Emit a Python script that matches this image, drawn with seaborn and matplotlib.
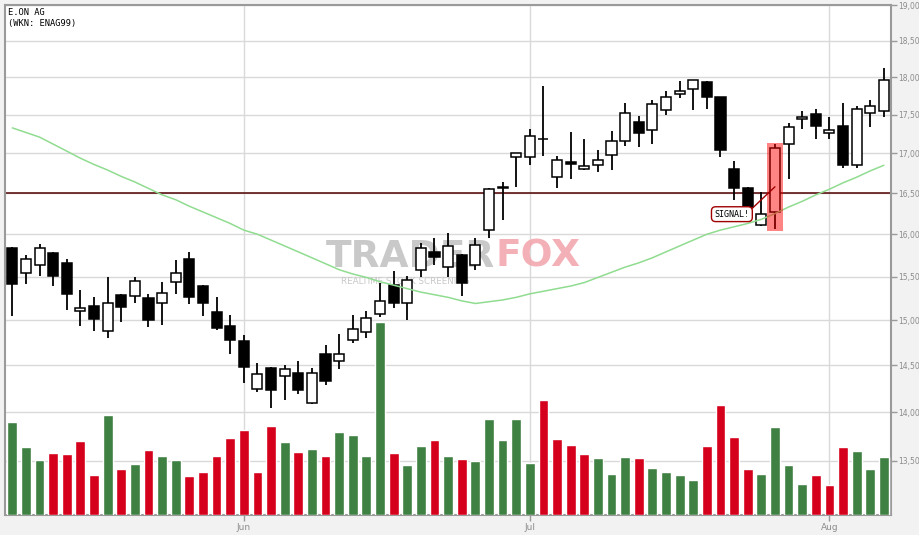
import numpy as np
import seaborn as sns
import matplotlib
matplotlib.use('Agg')
import matplotlib.pyplot as plt
from matplotlib.patches import Rectangle
from matplotlib.ticker import FixedLocator, NullLocator, FuncFormatter

# daily OHLC of E.ON AG (EUR), one entry per trading day
open_ = [15.84, 15.54, 15.64, 15.78, 15.66, 15.11, 15.16, 14.88, 15.29, 15.28,
         15.25, 15.20, 15.44, 15.70, 15.39, 15.09, 14.94, 14.77, 14.25, 14.47,
         14.39, 14.42, 14.10, 14.62, 14.55, 14.78, 14.87, 15.07, 15.40, 15.19,
         15.58, 15.79, 15.61, 15.75, 15.63, 16.05, 16.58, 16.95, 16.95, 17.19,
         16.70, 16.89, 16.80, 16.85, 16.98, 17.16, 17.41, 17.30, 17.56, 17.78,
         17.84, 17.94, 17.74, 16.80, 16.56, 16.11, 16.27, 17.12, 17.44, 17.51,
         17.26, 17.36, 16.85, 17.52, 17.55]
high = [15.85, 15.75, 15.88, 15.79, 15.71, 15.34, 15.26, 15.50, 15.30, 15.50,
        15.30, 15.44, 15.69, 15.79, 15.40, 15.26, 15.06, 14.83, 14.53, 14.48,
        14.50, 14.55, 14.47, 14.72, 14.85, 15.06, 15.10, 15.43, 15.57, 15.51,
        15.89, 15.96, 16.02, 15.76, 15.96, 16.56, 16.64, 17.00, 17.31, 17.89,
        16.97, 17.27, 17.19, 17.05, 17.29, 17.66, 17.49, 17.69, 17.81, 17.95,
        17.97, 17.95, 17.74, 16.90, 16.58, 16.51, 17.12, 17.40, 17.55, 17.58,
        17.47, 17.65, 17.62, 17.70, 18.13]
low = [15.05, 15.41, 15.51, 15.39, 15.12, 14.94, 14.88, 14.80, 14.98, 15.19,
       14.92, 14.95, 15.30, 15.18, 15.05, 14.89, 14.63, 14.31, 14.21, 14.04,
       14.13, 14.19, 14.09, 14.29, 14.46, 14.75, 14.80, 15.04, 15.14, 15.00,
       15.50, 15.63, 15.50, 15.28, 15.58, 15.95, 16.17, 16.58, 16.86, 16.97,
       16.57, 16.68, 16.79, 16.76, 16.79, 17.10, 17.08, 17.12, 17.50, 17.72,
       17.57, 17.58, 16.95, 16.42, 16.32, 16.10, 16.06, 16.68, 17.31, 17.19,
       17.19, 16.82, 16.81, 17.34, 17.47]
close = [15.41, 15.70, 15.83, 15.51, 15.30, 15.14, 15.01, 15.20, 15.15, 15.45,
         15.00, 15.31, 15.54, 15.26, 15.20, 14.91, 14.78, 14.48, 14.41, 14.23,
         14.46, 14.23, 14.42, 14.33, 14.62, 14.90, 15.02, 15.22, 15.20, 15.46,
         15.83, 15.73, 15.86, 15.42, 15.87, 16.55, 16.56, 17.00, 17.22, 17.19,
         16.92, 16.87, 16.84, 16.92, 17.16, 17.52, 17.26, 17.64, 17.74, 17.82,
         17.96, 17.74, 17.04, 16.56, 16.33, 16.25, 17.07, 17.34, 17.47, 17.35,
         17.30, 16.85, 17.58, 17.62, 17.96]
# moving average (green line)
ma = [17.33, 17.27, 17.21, 17.12, 17.03, 16.94, 16.86, 16.79, 16.71, 16.64,
      16.56, 16.48, 16.42, 16.34, 16.27, 16.20, 16.13, 16.05, 16.00, 15.93,
      15.86, 15.79, 15.72, 15.65, 15.58, 15.53, 15.49, 15.44, 15.40, 15.36,
      15.32, 15.29, 15.26, 15.22, 15.19, 15.21, 15.23, 15.26, 15.30, 15.33,
      15.36, 15.39, 15.43, 15.49, 15.55, 15.61, 15.66, 15.72, 15.79, 15.86,
      15.93, 16.00, 16.05, 16.09, 16.13, 16.18, 16.25, 16.33, 16.40, 16.48,
      16.55, 16.63, 16.70, 16.78, 16.85]
# volume in millions of shares
volume = [9.3, 6.8, 5.5, 6.2, 6.1, 7.4, 4.0, 10.0, 4.6, 5.1,
          6.5, 5.9, 5.5, 3.9, 4.3, 5.9, 7.7, 8.5, 4.3, 8.9,
          7.3, 6.3, 6.6, 5.9, 8.3, 8.0, 5.9, 19.3, 6.2, 5.0,
          6.9, 7.5, 5.9, 5.6, 5.4, 9.6, 7.5, 9.6, 5.2, 11.5,
          7.6, 7.0, 6.1, 5.7, 4.1, 5.8, 5.7, 4.7, 4.3, 4.0,
          3.5, 6.9, 11.0, 7.8, 4.6, 4.1, 8.8, 5.0, 3.1, 4.0,
          3.0, 6.8, 6.4, 4.6, 5.8]
vol_dir = ['up', 'up', 'up', 'down', 'down', 'down', 'down', 'up', 'down', 'up',
           'down', 'up', 'up', 'down', 'down', 'down', 'down', 'down', 'down', 'down',
           'up', 'down', 'up', 'down', 'up', 'up', 'up', 'up', 'down', 'up',
           'up', 'down', 'up', 'down', 'up', 'up', 'up', 'up', 'up', 'down',
           'down', 'down', 'down', 'up', 'up', 'up', 'down', 'up', 'up', 'up',
           'up', 'down', 'down', 'down', 'down', 'up', 'up', 'up', 'up', 'down',
           'down', 'down', 'up', 'up', 'up']
month_labels = ['Jun', 'Jul', 'Aug']
month_start = [17, 38, 60]     # first trading day of each month
price_ticks = [13.5, 14.0, 14.5, 15.0, 15.5, 16.0, 16.5, 17.0, 17.5, 18.0, 18.5, 19.0]
signal_day = 56
signal_level = 16.5

sns.set_theme(style='white')
plt.rcParams['font.family'] = ['DejaVu Sans']

n = len(close)
idx = np.arange(n)
o = np.array(open_); c = np.array(close)

fig = plt.figure(figsize=(9.2, 5.35), dpi=100, facecolor='#f2f2f2')
ax = fig.add_axes([5.5/920, 20/535, 885.2/920, 509.7/535])
ax.set_facecolor('white')
ax.set_yscale('log')

# watermark
ax.text(0.553, 0.487, 'TRADER', transform=ax.transAxes, ha='right', va='baseline',
        fontsize=27, fontweight='bold', color='#bcbcbc', alpha=0.8, zorder=1)
ax.text(0.553, 0.487, 'FOX', transform=ax.transAxes, ha='left', va='baseline',
        fontsize=27, fontweight='bold', color='#f2a3ab', alpha=0.85, zorder=1)
ax.text(0.452, 0.467, 'REALTIME STOCK SCREENING', transform=ax.transAxes, ha='center',
        va='top', fontsize=6.3, color='#c8c8c8', zorder=1)

ax.axhline(signal_level, color='#500000', lw=1.1, zorder=1.5)

# candles
ax.vlines(idx, low, high, color='black', lw=1.3, zorder=2)
body_col = np.where(c < o, 'black', 'white')
ax.bar(idx, np.abs(c - o), bottom=np.minimum(o, c), width=0.74, color=body_col,
       edgecolor='black', linewidth=1.1, zorder=3)

sns.lineplot(x=idx, y=ma, ax=ax, color='#90dc90', lw=1.1, zorder=4)

# signal highlight
ax.add_patch(Rectangle((signal_day - 0.61, low[signal_day] - 0.02), 1.22,
                       high[signal_day] - low[signal_day] + 0.03,
                       facecolor='red', alpha=0.48, lw=0, zorder=5))
ax.annotate('SIGNAL!', xy=(signal_day, signal_level + 0.08), xytext=(-31, -19.7),
            textcoords='offset points', ha='center', va='center',
            fontsize=6, family='DejaVu Sans Mono', color='black', zorder=6,
            bbox=dict(boxstyle='round,pad=0.35,rounding_size=0.5', fc='white',
                      ec='#a00000', lw=1),
            arrowprops=dict(arrowstyle='-', color='#a00000', lw=1,
                            shrinkA=0, shrinkB=0, relpos=(1, 0.85)))

ax.text(0.0028, 0.9947, 'E.ON AG\n(WKN: ENAG99)', transform=ax.transAxes,
        ha='left', va='top', fontsize=6.3, family='DejaVu Sans Mono',
        linespacing=1.25, color='black', zorder=6)

# volume in the lower part of the chart
ax_vol = ax.twinx()
sns.barplot(x=idx, y=volume, hue=vol_dir, palette={'up': '#3f8143', 'down': '#d5001c'},
            dodge=False, width=0.72, saturation=1, legend=False, errorbar=None, ax=ax_vol)
ax_vol.set_ylim(0, 50.97)
ax_vol.set_yticks([])
ax_vol.set_ylabel('')
for s in ax_vol.spines.values():
    s.set_visible(False)

ax.set_xlim(-0.5, n - 0.5)
ax.set_ylim(12.96, 19.0)
ax.yaxis.set_major_locator(FixedLocator(price_ticks))
ax.yaxis.set_minor_locator(NullLocator())
ax.yaxis.set_major_formatter(FuncFormatter(lambda v, p: f'{v:.2f}'.replace('.', ',')))
ax.yaxis.tick_right()
ax.set_xticks(month_start)
ax.set_xticklabels(month_labels)
ax.set_xlabel('')
ax.set_ylabel('')
ax.grid(True, color='#d9d9d9', lw=1)
ax.set_axisbelow(True)
ax.tick_params(axis='y', which='both', right=True, left=False, direction='out', length=4,
               width=1, color='#9a9a9a', labelcolor='#8c8c8c', labelsize=5.5, pad=1.5)
ax.tick_params(axis='x', bottom=True, direction='out', length=4, width=1,
               color='#9a9a9a', labelcolor='#8c8c8c', labelsize=6.5, pad=2)
for s in ax.spines.values():
    s.set_color('#9a9a9a')
    s.set_linewidth(1.5)

fig.savefig('out.png', dpi=100, facecolor=fig.get_facecolor())
